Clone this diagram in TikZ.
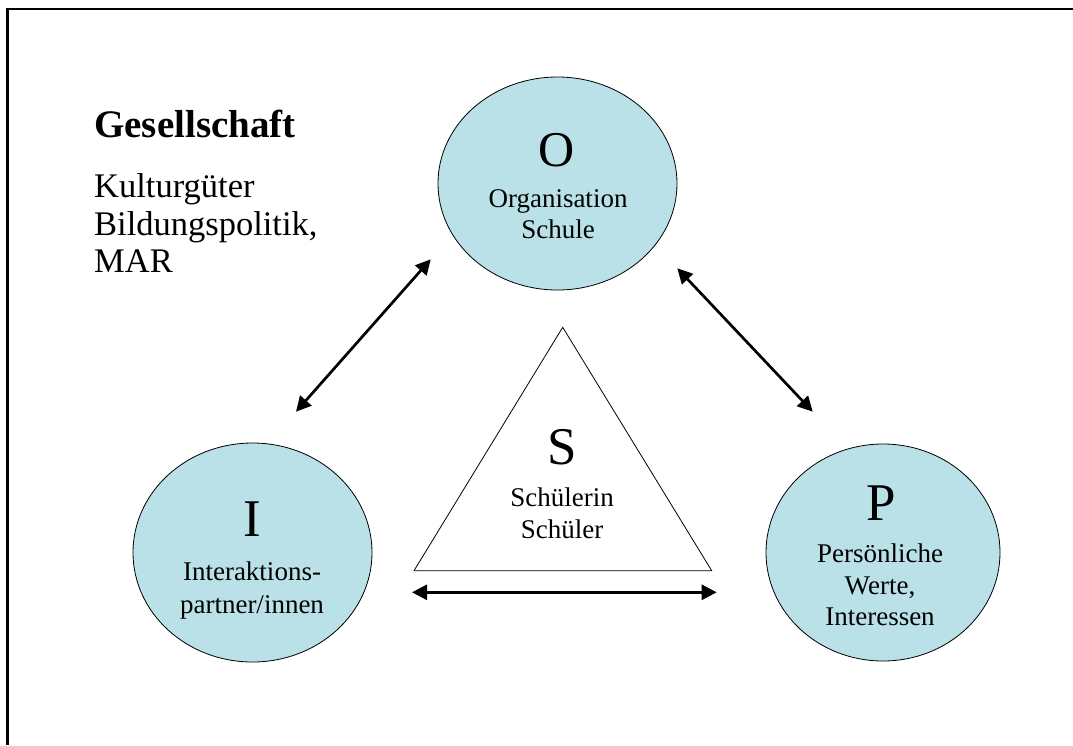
\documentclass[tikz,border=0pt]{standalone}
\usepackage{fontspec}
\setmainfont{Liberation Serif}
\usetikzlibrary{arrows.meta,shapes.geometric}
\definecolor{cellblue}{RGB}{185,225,231}
\begin{document}
\begin{tikzpicture}[x=1pt,y=-1pt,
  bubble/.style={ellipse, draw=black, line width=0.8pt, fill=cellblue, inner sep=0pt},
  letter/.style={anchor=base, inner sep=0pt, font=\fontsize{53}{53}\selectfont},
  caption/.style={anchor=base, inner sep=0pt, font=\fontsize{27}{27}\selectfont},
  sidetext/.style={anchor=base west, inner sep=0pt, font=\fontsize{34.5}{34.5}\selectfont},
  link/.style={line width=2.7pt,
    {Triangle[length=15pt,width=15pt]}-{Triangle[length=15pt,width=15pt]}}]
\useasboundingbox (0,0) rectangle (1073,745);
\fill[white] (0,0) rectangle (1073,745);

% frame lines along the top and left
\draw[line width=2.5pt] (7.5,745) -- (7.5,9) -- (1073,9);

% left-hand text block
\node[sidetext, font=\bfseries\fontsize{39}{39}\selectfont] (gesellschaft) at (94,137) {Gesellschaft};
\node[sidetext] (kultur) at (94,197) {Kulturgüter};
\node[sidetext] (bildung) at (94,235) {Bildungspolitik,};
\node[sidetext] (mar) at (94,272) {MAR};

% the three ellipses
\node[bubble, minimum width=239pt, minimum height=213pt] (O) at (557.5,183.5) {};
\node[bubble, minimum width=239pt, minimum height=219pt] (I) at (252.5,552.5) {};
\node[bubble, minimum width=234pt, minimum height=217pt] (P) at (883,552.5) {};

% labels inside the ellipses
\node[letter, font=\fontsize{50}{50}\selectfont] (Oletter) at (557,166) {O};
\node[caption] (Oline1) at (558,207) {Organisation};
\node[caption] (Oline2) at (558,238) {Schule};

\node[letter] (Iletter) at (252,536.5) {I};
\node[caption] (Iline1) at (252,580.5) {Interaktions-};
\node[caption] (Iline2) at (252,613.5) {partner/innen};

\node[letter] (Pletter) at (881,520.5) {P};
\node[caption] (Pline1) at (880,562.5) {Persönliche};
\node[caption] (Pline2) at (880,594) {Werte,};
\node[caption] (Pline3) at (880,625.5) {Interessen};

% central triangle
\coordinate (Stop) at (562.7,327.3);
\coordinate (Sleft) at (414,570.7);
\coordinate (Sright) at (711.7,570.7);
\draw[line width=0.8pt, line join=miter] (Stop) -- (Sleft) -- (Sright) -- cycle;
\node[letter] (Sletter) at (562,464) {S};
\node[caption] (Sline1) at (562,506.5) {Schülerin};
\node[caption] (Sline2) at (562,538.3) {Schüler};

% double-headed connectors
\coordinate (a1) at (430.7,259.3);
\coordinate (a2) at (296,411.7);
\coordinate (b1) at (677.3,268.3);
\coordinate (b2) at (812.7,411.7);
\coordinate (c1) at (412,592.3);
\coordinate (c2) at (716.7,592.3);
\draw[link] (a2) -- (a1);
\draw[link] (b1) -- (b2);
\draw[link] (c1) -- (c2);
\end{tikzpicture}
\end{document}
